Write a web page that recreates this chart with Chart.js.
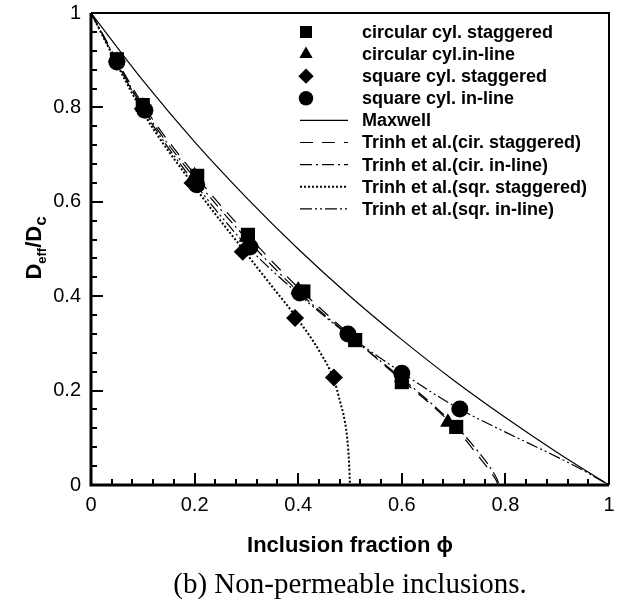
<!DOCTYPE html>
<html>
<head>
<meta charset="utf-8">
<script src="https://cdn.jsdelivr.net/npm/chart.js@4.4.1/dist/chart.umd.min.js"></script>
<style>
  html, body { margin: 0; padding: 0; background: #fff; }
  #wrap { position: relative; width: 622px; height: 604px; }
  #caption {
    position: absolute; left: 91px; width: 518px; top: 566px;
    text-align: center; color: #000;
    font-family: "Liberation Serif", "Times New Roman", serif;
    font-size: 29px; line-height: 34px;
  }
</style>
</head>
<body>
<div id="wrap">
  <canvas id="chart" width="622" height="604"></canvas>
  <div id="caption">(b) Non-permeable inclusions.</div>
</div>
<script>
// Simulation points (markers)
const phiCircStag = [0.05, 0.1, 0.205, 0.303, 0.41, 0.51, 0.6, 0.705];
const valCircStag = [0.902, 0.805, 0.655, 0.53, 0.41, 0.307, 0.218, 0.123];
const phiCircInline = [0.05, 0.1, 0.2, 0.3, 0.4, 0.5, 0.6, 0.689];
const valCircInline = [0.9, 0.803, 0.655, 0.525, 0.413, 0.318, 0.228, 0.133];
const phiSqrStag = [0.05, 0.1, 0.196, 0.293, 0.394, 0.469];
const valSqrStag = [0.897, 0.797, 0.64, 0.494, 0.354, 0.228];
const phiSqrInline = [0.05, 0.104, 0.204, 0.307, 0.403, 0.496, 0.6, 0.712];
const valSqrInline = [0.896, 0.794, 0.636, 0.504, 0.407, 0.32, 0.237, 0.161];

// Model curves
const phiMaxwell = [0, 0.1, 0.2, 0.3, 0.4, 0.5, 0.6, 0.7, 0.8, 0.9, 1];
const valMaxwell = [1, 0.857, 0.727, 0.609, 0.5, 0.4, 0.308, 0.222, 0.143, 0.069, 0];
const phiTrinhCircStag = [0, 0.1, 0.2, 0.3, 0.4, 0.5, 0.6, 0.66, 0.71, 0.745, 0.77, 0.782, 0.786];
const valTrinhCircStag = [1, 0.806, 0.658, 0.532, 0.418, 0.318, 0.222, 0.167, 0.113, 0.065, 0.03, 0.01, 0];
const phiTrinhCircInline = [0, 0.1, 0.2, 0.3, 0.4, 0.5, 0.6, 0.66, 0.71, 0.748, 0.772, 0.784, 0.788];
const valTrinhCircInline = [1, 0.8, 0.65, 0.522, 0.41, 0.315, 0.226, 0.17, 0.118, 0.07, 0.035, 0.012, 0];
const phiTrinhSqrStag = [0, 0.1, 0.2, 0.3, 0.35, 0.4, 0.44, 0.47, 0.48, 0.49, 0.495, 0.498, 0.5];
const valTrinhSqrStag = [1, 0.79, 0.632, 0.49, 0.42, 0.35, 0.285, 0.22, 0.18, 0.135, 0.095, 0.05, 0];
const phiTrinhSqrInline = [0, 0.1, 0.2, 0.3, 0.4, 0.5, 0.6, 0.7, 0.8, 0.88, 0.94, 1];
const valTrinhSqrInline = [1, 0.796, 0.64, 0.508, 0.405, 0.315, 0.238, 0.168, 0.112, 0.07, 0.037, 0];

const tickValues = [0, 0.2, 0.4, 0.6, 0.8, 1];
const tickLabels = ["0", "0.2", "0.4", "0.6", "0.8", "1"];
const minorStep = 0.04;

const sans = '"Liberation Sans", Arial, Helvetica, sans-serif';

function pts(xs, ys) {
  return xs.map((x, i) => ({ x: x, y: ys[i] }));
}

function markerSet(label, xs, ys, style, radius) {
  return {
    label: label, data: pts(xs, ys), showLine: false,
    pointStyle: style, pointRadius: radius, pointHoverRadius: radius,
    pointBackgroundColor: "#000", pointBorderWidth: 0, order: 0
  };
}

function curveSet(label, xs, ys, dash, width) {
  return {
    label: label, data: pts(xs, ys), showLine: true,
    borderColor: "#000", borderWidth: width, borderDash: dash,
    pointRadius: 0, cubicInterpolationMode: "monotone", order: 1
  };
}

const datasets = [
  markerSet("circular cyl. staggered", phiCircStag, valCircStag, "rect", 10),
  markerSet("circular cyl.in-line", phiCircInline, valCircInline, "triangle", 9),
  markerSet("square cyl. staggered", phiSqrStag, valSqrStag, "rectRot", 9),
  markerSet("square cyl. in-line", phiSqrInline, valSqrInline, "circle", 8.5),
  curveSet("Maxwell", phiMaxwell, valMaxwell, [], 1.2),
  curveSet("Trinh et al.(cir. staggered)", phiTrinhCircStag, valTrinhCircStag, [13, 9], 1.2),
  curveSet("Trinh et al.(cir. in-line)", phiTrinhCircInline, valTrinhCircInline, [12, 4, 2, 4], 1.2),
  curveSet("Trinh et al.(sqr. staggered)", phiTrinhSqrStag, valTrinhSqrStag, [2, 2], 2),
  curveSet("Trinh et al.(sqr. in-line)", phiTrinhSqrInline, valTrinhSqrInline, [12, 3, 2, 3, 2, 3], 1.2)
];

// Legend drawn inside the plot box, Tecplot style
const boxLegend = {
  id: "boxLegend",
  afterDatasetsDraw(chart) {
    const ctx = chart.ctx;
    ctx.save();
    ctx.font = "bold 18px " + sans;
    ctx.textBaseline = "middle";
    ctx.fillStyle = "#000";
    ctx.strokeStyle = "#000";
    chart.data.datasets.forEach((ds, i) => {
      const y = 32 + i * 22.1;
      if (ds.showLine) {
        ctx.lineWidth = ds.borderWidth;
        ctx.setLineDash(ds.borderDash);
        ctx.beginPath();
        ctx.moveTo(300, y);
        ctx.lineTo(348, y);
        ctx.stroke();
        ctx.setLineDash([]);
      } else {
        Chart.helpers.drawPoint(ctx, { pointStyle: ds.pointStyle, radius: ds.pointRadius * 0.85, borderWidth: 0, rotation: 0 }, 306, y);
      }
      ctx.fillText(ds.label, 362, y + 1);
    });
    ctx.restore();
  }
};

// Frame and inward ticks (major every 0.2, minor every 0.04)
const frame = {
  id: "frame",
  afterDraw(chart) {
    const ctx = chart.ctx;
    const a = chart.chartArea;
    const sx = chart.scales.x;
    const sy = chart.scales.y;
    ctx.save();
    ctx.setLineDash([]);
    ctx.fillStyle = "#000";
    for (let i = 0; i <= 25; i++) {
      const v = i * minorStep;
      const len = i % 5 === 0 ? 12 : 6;
      const px = Math.round(sx.getPixelForValue(v));
      ctx.fillRect(px - 1, a.bottom - len, 2, len);
      const py = Math.round(sy.getPixelForValue(v));
      ctx.fillRect(a.left, py - 1, len, 2);
    }
    ctx.strokeStyle = "#000";
    ctx.lineWidth = 2;
    ctx.beginPath();
    ctx.moveTo(a.left, a.top);
    ctx.lineTo(a.right, a.top);
    ctx.lineTo(a.right, a.bottom);
    ctx.stroke();
    ctx.lineWidth = 3;
    ctx.beginPath();
    ctx.moveTo(a.left, a.top);
    ctx.lineTo(a.left, a.bottom);
    ctx.lineTo(a.right, a.bottom);
    ctx.stroke();
    ctx.restore();
  }
};

// Y axis title with subscripts: D_eff / D_c
const yTitle = {
  id: "yTitle",
  afterDraw(chart) {
    const ctx = chart.ctx;
    const parts = [
      { t: "D", f: "bold 22px " + sans, dy: 0 },
      { t: "eff", f: "bold 13px " + sans, dy: 5 },
      { t: "/D", f: "bold 22px " + sans, dy: 0 },
      { t: "c", f: "bold 17px " + sans, dy: 5 }
    ];
    ctx.save();
    let total = 0;
    parts.forEach(p => { ctx.font = p.f; p.w = ctx.measureText(p.t).width; total += p.w; });
    ctx.translate(41, 248);
    ctx.rotate(-Math.PI / 2);
    ctx.fillStyle = "#000";
    ctx.textBaseline = "alphabetic";
    let x = -total / 2;
    parts.forEach(p => {
      ctx.font = p.f;
      ctx.fillText(p.t, x, p.dy);
      x += p.w;
    });
    ctx.restore();
  }
};

new Chart(document.getElementById("chart"), {
  type: "scatter",
  data: { datasets: datasets },
  options: {
    responsive: false,
    animation: false,
    events: [],
    layout: { autoPadding: false, padding: { left: 0, right: 13, top: 13, bottom: 0 } },
    plugins: { legend: { display: false }, tooltip: { enabled: false } },
    scales: {
      x: {
        type: "linear", min: 0, max: 1,
        afterFit: s => { s.height = 119; s.paddingLeft = 0; s.paddingRight = 0; },
        afterBuildTicks: s => { s.ticks = tickValues.map(v => ({ value: v })); },
        ticks: {
          color: "#000", padding: 8, maxRotation: 0,
          font: { family: sans, size: 20 },
          callback: v => tickLabels[tickValues.indexOf(+v.toFixed(1))]
        },
        grid: { display: false, drawTicks: false },
        border: { display: false },
        title: {
          display: true, text: "Inclusion fraction \u03D5", color: "#000",
          font: { family: sans, size: 22, weight: "bold" },
          padding: { top: 0, bottom: 45 }
        }
      },
      y: {
        type: "linear", min: 0, max: 1,
        afterFit: s => { s.width = 91; s.paddingTop = 0; s.paddingBottom = 0; },
        afterBuildTicks: s => { s.ticks = tickValues.map(v => ({ value: v })); },
        ticks: {
          color: "#000", padding: 10,
          font: { family: sans, size: 20 },
          callback: v => tickLabels[tickValues.indexOf(+v.toFixed(1))]
        },
        grid: { display: false, drawTicks: false },
        border: { display: false }
      }
    }
  },
  plugins: [frame, boxLegend, yTitle]
});
</script>
</body>
</html>
